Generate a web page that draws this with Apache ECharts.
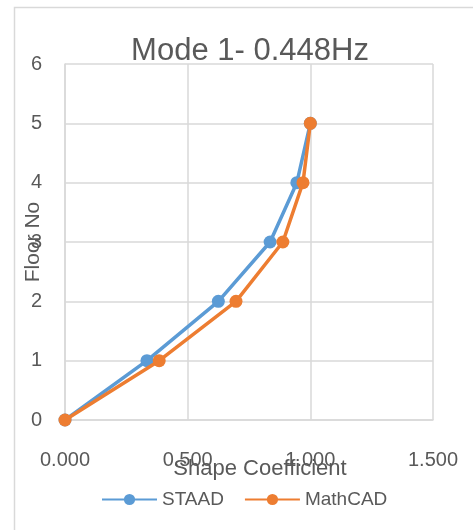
<!DOCTYPE html>
<html>
<head>
<meta charset="utf-8">
<script src="https://cdn.jsdelivr.net/npm/echarts@6/dist/echarts.min.js"></script>
<style>
  html, body { margin: 0; padding: 0; background: #ffffff; }
  #chart { width: 473px; height: 530px; }
</style>
</head>
<body>
<div id="chart"></div>
<script>
// Floor numbers and mode shape coefficients for mode 1
const floors = [0, 1, 2, 3, 4, 5];
const staad = [0.000, 0.334, 0.625, 0.836, 0.945, 1.000];
const mathcad = [0.000, 0.384, 0.697, 0.888, 0.970, 1.000];
const xTicks = { min: 0, max: 1.5, step: 0.5 };
const yTicks = { min: 0, max: 6, step: 1 };

const textColor = '#595959';
const gridColor = '#d9d9d9';
const font = '"Liberation Sans", Arial, sans-serif';

const pairs = (xs) => xs.map((x, i) => [x, floors[i]]);

const chart = echarts.init(document.getElementById('chart'), null, { renderer: 'canvas' });
chart.setOption({
  backgroundColor: '#ffffff',
  animation: false,
  textStyle: { fontFamily: font, color: textColor },
  graphic: [{
    type: 'rect',
    shape: { x: 14.5, y: 7.5, width: 520, height: 600 },
    style: { fill: 'none', stroke: '#d9d9d9', lineWidth: 1.5 },
    silent: true
  }],
  title: {
    text: 'Mode 1- 0.448Hz',
    left: 245,
    top: 31,
    textAlign: 'center',
    textStyle: { fontFamily: font, fontSize: 31, fontWeight: 'normal', color: textColor }
  },
  grid: { left: 65, top: 64, right: 40, bottom: 110, containLabel: false, outerBoundsMode: 'none' },
  xAxis: {
    type: 'value',
    min: xTicks.min,
    max: xTicks.max,
    interval: xTicks.step,
    name: 'Shape Coefficient',
    nameLocation: 'middle',
    nameGap: 38,
    nameMoveOverlap: false,
    nameTextStyle: { fontFamily: font, fontSize: 22, color: textColor, padding: [0, 0, 0, 22] },
    axisLine: { show: true, lineStyle: { color: gridColor, width: 1.5 } },
    axisTick: { show: false },
    axisLabel: {
      margin: 30,
      fontFamily: font, fontSize: 20, color: textColor,
      formatter: (v) => v.toFixed(3)
    },
    splitLine: { show: true, lineStyle: { color: gridColor, width: 1.5 } }
  },
  yAxis: {
    type: 'value',
    min: yTicks.min,
    max: yTicks.max,
    interval: yTicks.step,
    name: 'Floor No',
    nameLocation: 'middle',
    nameGap: 21,
    nameMoveOverlap: false,
    nameRotate: 90,
    nameTextStyle: { fontFamily: font, fontSize: 21, color: textColor },
    axisLine: { show: true, lineStyle: { color: gridColor, width: 1.5 } },
    axisTick: { show: false },
    axisLabel: { margin: 23, fontFamily: font, fontSize: 20, color: textColor },
    splitLine: { show: true, lineStyle: { color: gridColor, width: 1.5 } }
  },
  legend: {
    orient: 'horizontal',
    top: 485,
    left: 96,
    itemWidth: 55,
    itemHeight: 14,
    itemGap: 20,
    textStyle: { fontFamily: font, fontSize: 19, color: textColor },
    data: ['STAAD', 'MathCAD']
  },
  series: [
    {
      name: 'STAAD',
      type: 'line',
      data: pairs(staad),
      symbol: 'circle',
      symbolSize: 13,
      lineStyle: { color: '#5B9BD5', width: 3.5 },
      itemStyle: { color: '#5B9BD5' },
      z: 2
    },
    {
      name: 'MathCAD',
      type: 'line',
      data: pairs(mathcad),
      symbol: 'circle',
      symbolSize: 13,
      lineStyle: { color: '#ED7D31', width: 3.5 },
      itemStyle: { color: '#ED7D31' },
      z: 3
    }
  ]
});
</script>
</body>
</html>
